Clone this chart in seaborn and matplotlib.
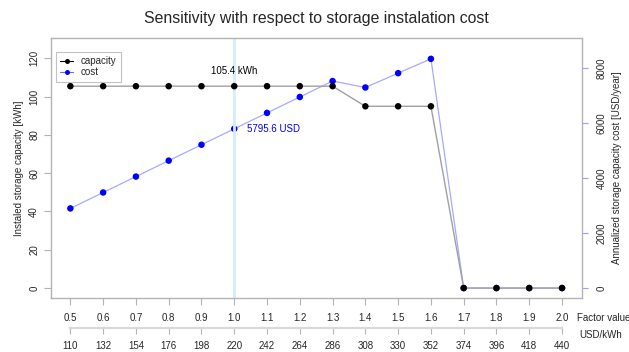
import matplotlib
matplotlib.use("Agg")
import matplotlib.pyplot as plt
import seaborn as sns
from matplotlib.lines import Line2D

# Sensitivity data: storage installation cost factor
factor = [0.5, 0.6, 0.7, 0.8, 0.9, 1.0, 1.1, 1.2, 1.3, 1.4, 1.5, 1.6, 1.7, 1.8, 1.9, 2.0]
factor_labels = ["0.5", "0.6", "0.7", "0.8", "0.9", "1.0", "1.1", "1.2",
                 "1.3", "1.4", "1.5", "1.6", "1.7", "1.8", "1.9", "2.0"]
usd_per_kwh = [110, 132, 154, 176, 198, 220, 242, 264, 286, 308, 330, 352, 374, 396, 418, 440]
capacity = [105.4, 105.4, 105.4, 105.4, 105.4, 105.4, 105.4, 105.4, 105.4,
            94.9, 94.9, 94.9, 0, 0, 0, 0]
cost = [2897.8, 3477.4, 4056.9, 4636.5, 5216.0, 5795.6, 6375.2, 6954.7, 7534.3,
        7300.0, 7822.0, 8343.0, 0, 0, 0, 0]
left_ticks = [0, 20, 40, 60, 80, 100, 120]
right_ticks = [0, 2000, 4000, 6000, 8000]
base_idx = 5  # reference factor 1.0

sns.set_style("white")
plt.rcParams["font.family"] = ["Liberation Sans", "DejaVu Sans"]

W, H = 629, 352
fig = plt.figure(figsize=(W / 100, H / 100), dpi=100)
x0, x1, ytop, ybot = 50.7, 581.7, 38.3, 297.7
ax = fig.add_axes([x0 / W, (H - ybot) / H, (x1 - x0) / W, (ybot - ytop) / H])
ax2 = ax.twinx()

GREY = "#b3b3b3"
FS = 7.0

ax.set_xlim(0.44, 2.06)
ax.set_ylim(-5.02, 130.4)
ax2.set_ylim(-353, 9091)

# reference marker
ax.axvline(factor[base_idx], color="#d2eef9", lw=2, zorder=0)

# capacity series (left axis)
sns.lineplot(x=factor, y=capacity, ax=ax, color="#a0a0a0", lw=1.0, zorder=2)
sns.scatterplot(x=factor, y=capacity, ax=ax, color="black", s=22, edgecolor="none", zorder=3)

# cost series (right axis)
sns.lineplot(x=factor, y=cost, ax=ax2, color="#a8a8ff", lw=0.9, zorder=2)
sns.scatterplot(x=factor, y=cost, ax=ax2, color="#0000ff", s=22, edgecolor="none", zorder=3)

ax.annotate(f"{capacity[base_idx]} kWh", (factor[base_idx], capacity[base_idx]),
            xytext=(0, 11.2), textcoords="offset points", ha="center", va="center",
            fontsize=FS, color="black")
ax2.annotate(f"{cost[base_idx]} USD", (factor[base_idx], cost[base_idx]),
             xytext=(9.1, 0), textcoords="offset points", ha="left", va="center",
             fontsize=FS, color="#0000ff")

# frame
for sp in ax.spines.values():
    sp.set_color(GREY)
    sp.set_linewidth(1.0)
    sp.set_visible(True)
for sp in ax2.spines.values():
    sp.set_visible(False)

# left axis
ax.set_yticks(left_ticks)
ax.set_yticklabels([str(v) for v in left_ticks])
ax.tick_params(axis="y", left=True, length=5.3, width=0.8, color=GREY, labelsize=FS,
               labelrotation=90, pad=3)
for lab in ax.get_yticklabels():
    lab.set_va("center")
ax.set_ylabel("Instaled storage capacity [kWh]", fontsize=FS, labelpad=4)

# right axis
ax2.set_yticks(right_ticks)
ax2.set_yticklabels([str(v) for v in right_ticks])
ax2.tick_params(axis="y", right=True, length=4.5, width=0.8, color="#9a9aff", labelsize=FS,
                labelrotation=90, pad=6.5)
for lab in ax2.get_yticklabels():
    lab.set_va("center")
ax2.set_ylabel("Annualized storage capacity cost [USD/year]", fontsize=FS, labelpad=3.5)
ax2.grid(False)
ax.grid(False)

# factor axis
ax.set_xticks(factor)
ax.set_xticklabels(factor_labels)
ax.tick_params(axis="x", bottom=True, length=4.8, width=0.8, color=GREY, labelsize=FS, pad=6)
ax.set_xlabel("")

# price axis below
sec = ax.secondary_xaxis(-0.1178, functions=(lambda f: f * 220.0, lambda u: u / 220.0))
sec.set_xticks(usd_per_kwh)
sec.set_xticklabels([str(v) for v in usd_per_kwh])
sec.tick_params(axis="x", length=4.5, width=0.8, color=GREY, labelsize=FS, pad=5)
sec.spines["bottom"].set_color("#d9d9d9")
sec.spines["bottom"].set_linewidth(1.6)
sec.spines["bottom"].set_bounds(usd_per_kwh[0], usd_per_kwh[-1])

fig.text(577 / W, 1 - 318.3 / H, "Factor value", fontsize=FS, ha="left", va="center")
fig.text(579 / W, 1 - 334.5 / H, "USD/kWh", fontsize=FS, ha="left", va="center")

fig.suptitle("Sensitivity with respect to storage instalation cost", fontsize=11.4,
             x=(x0 + x1) / 2 / W, y=1 - 18.3 / H, va="center")

handles = [
    Line2D([], [], color="black", lw=0.8, marker="o", markersize=3.6,
           markerfacecolor="black", markeredgecolor="none"),
    Line2D([], [], color="#6666ff", lw=0.8, marker="o", markersize=3.6,
           markerfacecolor="#0000ff", markeredgecolor="none"),
]
leg = ax.legend(handles, ["capacity", "cost"], loc="upper left",
                bbox_to_anchor=(0.0094, 0.949), borderaxespad=0, fontsize=FS,
                fancybox=False, frameon=True, handlelength=1.35, handletextpad=0.8,
                labelspacing=0.15, borderpad=0.45)
leg.get_frame().set_edgecolor(GREY)
leg.get_frame().set_linewidth(0.8)
ax.set_zorder(ax2.get_zorder() + 1)
ax.patch.set_visible(False)

fig.savefig("out.png", dpi=100)
